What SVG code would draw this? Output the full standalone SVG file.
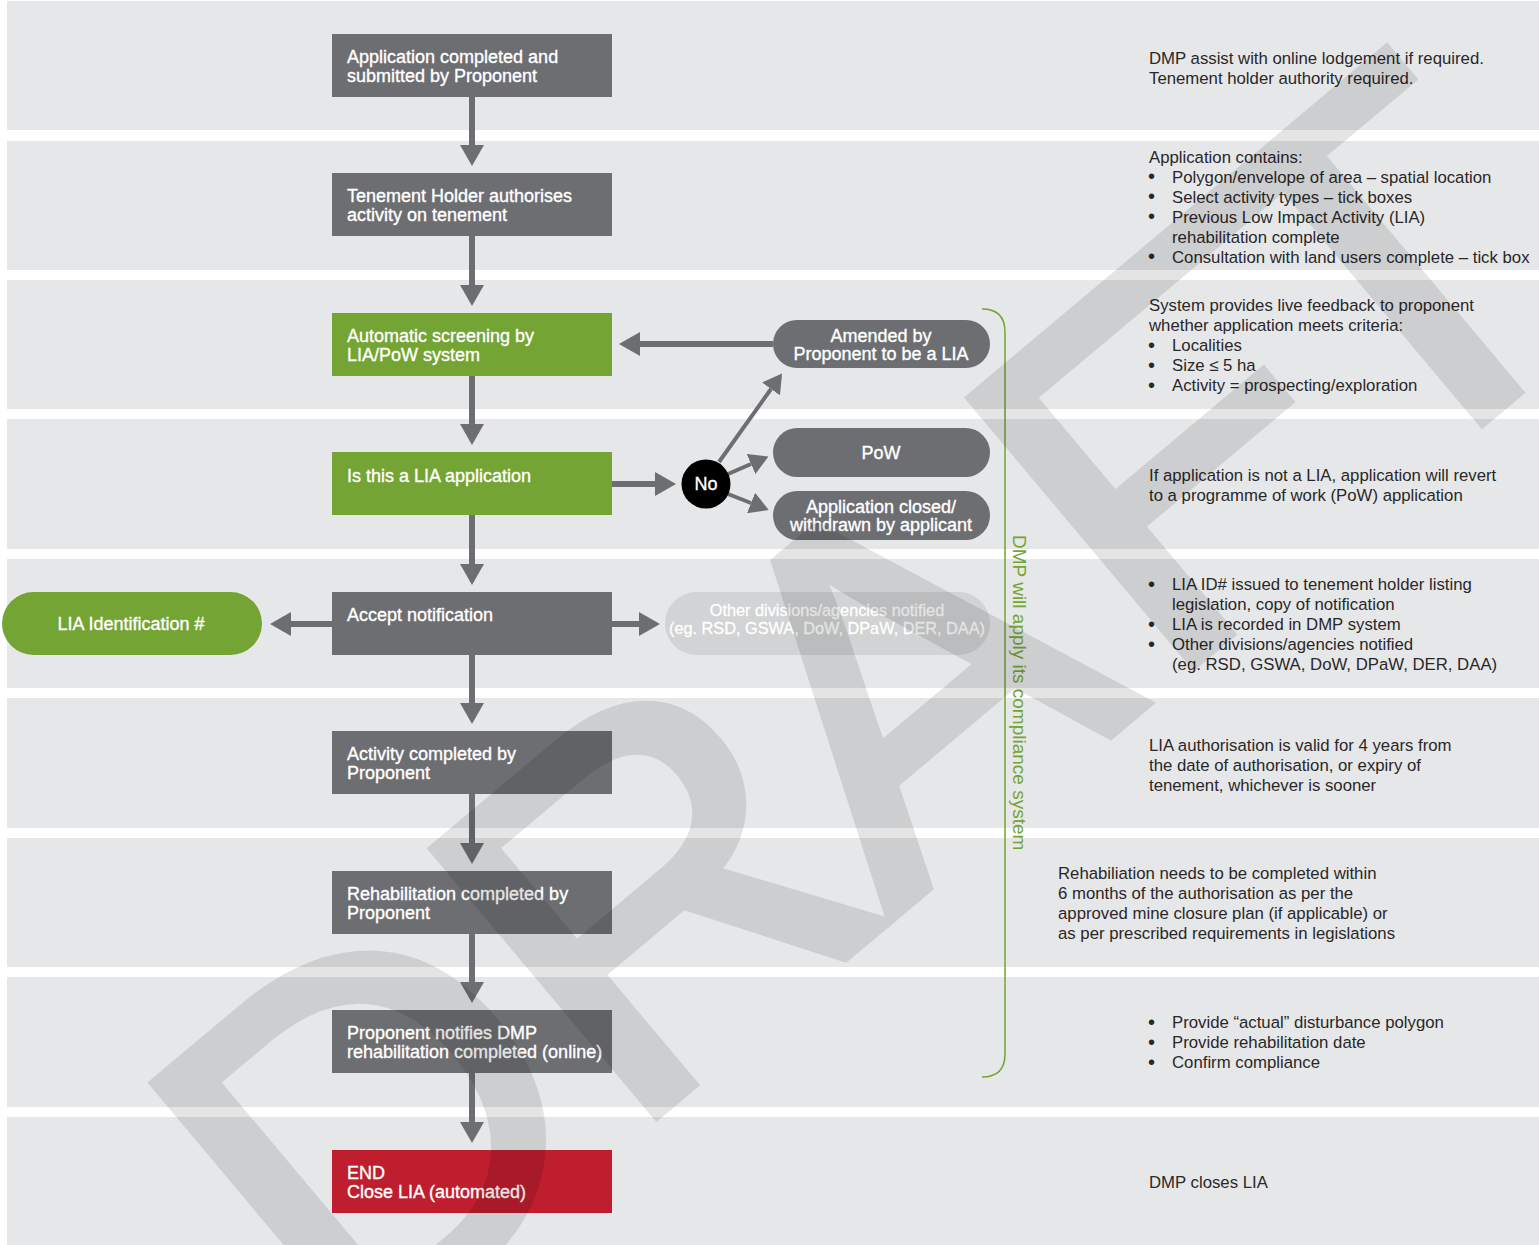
<svg xmlns="http://www.w3.org/2000/svg" width="1539" height="1245" viewBox="0 0 1539 1245">
  <style>
    .band{fill:#e6e7e8}
    .gray{fill:#6d6e71}
    .green{fill:#74a433}
    .red{fill:#be1e2d}
    .pale{fill:#d1d3d4}
    .nt{font-family:"Liberation Sans",Arial,sans-serif;font-size:18px;fill:#fff;stroke:#fff;stroke-width:0.35px}
    .pt{font-family:"Liberation Sans",Arial,sans-serif;font-size:16.3px;fill:#fff;stroke:#fff;stroke-width:0.3px;text-anchor:middle}
    .mid{text-anchor:middle}
    .note{font-family:"Liberation Sans",Arial,sans-serif;font-size:16.75px;fill:#2a2728}
    .bul{font-size:20px}
    .conn{stroke:#6d6e71;stroke-width:6;fill:none}
    .thin{stroke:#6d6e71;stroke-width:4;fill:none}
  </style>
  <defs>
    <marker id="ah" markerUnits="userSpaceOnUse" markerWidth="21" markerHeight="24" viewBox="0 0 21 24" refX="0" refY="12" orient="auto">
      <path d="M0,0 L21,12 L0,24 Z" fill="#6d6e71"/>
    </marker>
    <marker id="ahs" markerUnits="userSpaceOnUse" markerWidth="19" markerHeight="22" viewBox="0 0 19 22" refX="0" refY="11" orient="auto">
      <path d="M0,0 L19,11 L0,22 Z" fill="#6d6e71"/>
    </marker>
  </defs>

  <rect width="1539" height="1245" fill="#fff"/>

  <!-- background swim lanes -->
  <g id="lanes">
    <rect class="band" x="7" y="1" width="1532" height="129"/>
    <rect class="band" x="7" y="141" width="1532" height="129"/>
    <rect class="band" x="7" y="280" width="1532" height="129"/>
    <rect class="band" x="7" y="419" width="1532" height="130"/>
    <rect class="band" x="7" y="559" width="1532" height="129"/>
    <rect class="band" x="7" y="698" width="1532" height="130"/>
    <rect class="band" x="7" y="838" width="1532" height="129"/>
    <rect class="band" x="7" y="977" width="1532" height="130"/>
    <rect class="band" x="7" y="1117" width="1532" height="128"/>
  </g>

  <!-- compliance bracket -->
  <g id="compliance">
    <path d="M982,309 Q1005,309 1005,332 V1054 Q1005,1077 982,1077" fill="none" stroke="#74a433" stroke-width="1.5"/>
    <text transform="translate(1013,535) rotate(90)" font-family="Liberation Sans, Arial, sans-serif" font-size="19" fill="#74a433">DMP will apply its compliance system</text>
  </g>

  <!-- connectors -->
  <g id="connectors">
    <line class="conn" x1="472" y1="97" x2="472" y2="145" marker-end="url(#ah)"/>
    <line class="conn" x1="472" y1="236" x2="472" y2="285" marker-end="url(#ah)"/>
    <line class="conn" x1="472" y1="376" x2="472" y2="424" marker-end="url(#ah)"/>
    <line class="conn" x1="472" y1="515" x2="472" y2="564" marker-end="url(#ah)"/>
    <line class="conn" x1="472" y1="655" x2="472" y2="703" marker-end="url(#ah)"/>
    <line class="conn" x1="472" y1="794" x2="472" y2="843" marker-end="url(#ah)"/>
    <line class="conn" x1="472" y1="934" x2="472" y2="982" marker-end="url(#ah)"/>
    <line class="conn" x1="472" y1="1073" x2="472" y2="1122" marker-end="url(#ah)"/>
    <line class="conn" x1="773" y1="344" x2="640" y2="344" marker-end="url(#ah)"/>
    <line class="conn" x1="612" y1="484" x2="655" y2="484" marker-end="url(#ah)"/>
    <line class="conn" x1="332" y1="624" x2="291" y2="624" marker-end="url(#ah)"/>
    <line class="conn" x1="612" y1="624" x2="639" y2="624" marker-end="url(#ah)"/>
    <line class="thin" x1="719" y1="462" x2="771" y2="389" marker-end="url(#ahs)"/>
    <line class="thin" x1="728" y1="474" x2="751" y2="464" marker-end="url(#ahs)"/>
    <line class="thin" x1="728" y1="494" x2="751" y2="503" marker-end="url(#ahs)"/>
  </g>

  <!-- process steps -->
  <g id="n-submitted">
    <rect class="gray" x="332" y="34" width="280" height="63"/>
    <text class="nt" x="347" y="63">Application completed and</text>
    <text class="nt" x="347" y="82">submitted by Proponent</text>
  </g>
  <g id="n-authorises">
    <rect class="gray" x="332" y="173" width="280" height="63"/>
    <text class="nt" x="347" y="202">Tenement Holder authorises</text>
    <text class="nt" x="347" y="221">activity on tenement</text>
  </g>
  <g id="n-screening">
    <rect class="green" x="332" y="313" width="280" height="63"/>
    <text class="nt" x="347" y="342">Automatic screening by</text>
    <text class="nt" x="347" y="361">LIA/PoW system</text>
  </g>
  <g id="n-is-lia">
    <rect class="green" x="332" y="452" width="280" height="63"/>
    <text class="nt" x="347" y="482">Is this a LIA application</text>
  </g>
  <g id="n-accept">
    <rect class="gray" x="332" y="592" width="280" height="63"/>
    <text class="nt" x="347" y="621">Accept notification</text>
  </g>
  <g id="n-activity">
    <rect class="gray" x="332" y="731" width="280" height="63"/>
    <text class="nt" x="347" y="760">Activity completed by</text>
    <text class="nt" x="347" y="779">Proponent</text>
  </g>
  <g id="n-rehab">
    <rect class="gray" x="332" y="871" width="280" height="63"/>
    <text class="nt" x="347" y="900">Rehabilitation completed by</text>
    <text class="nt" x="347" y="919">Proponent</text>
  </g>
  <g id="n-notify">
    <rect class="gray" x="332" y="1010" width="280" height="63"/>
    <text class="nt" x="347" y="1039">Proponent notifies DMP</text>
    <text class="nt" x="347" y="1058">rehabilitation completed (online)</text>
  </g>
  <g id="n-end">
    <rect class="red" x="332" y="1150" width="280" height="63"/>
    <text class="nt" x="347" y="1179">END</text>
    <text class="nt" x="347" y="1198">Close LIA (automated)</text>
  </g>

  <!-- side outcomes -->
  <g id="n-no">
    <circle cx="706" cy="484" r="24.5" fill="#000"/>
    <text class="nt mid" x="706" y="490">No</text>
  </g>
  <g id="n-amended">
    <rect class="gray" x="773" y="320" width="217" height="48" rx="24"/>
    <text class="nt mid" x="881" y="342">Amended by</text>
    <text class="nt mid" x="881" y="360">Proponent to be a LIA</text>
  </g>
  <g id="n-pow">
    <rect class="gray" x="773" y="428" width="217" height="49" rx="24.5"/>
    <text class="nt mid" x="881" y="459">PoW</text>
  </g>
  <g id="n-closed">
    <rect class="gray" x="773" y="491" width="217" height="49" rx="24.5"/>
    <text class="nt mid" x="881" y="513">Application closed/</text>
    <text class="nt mid" x="881" y="531">withdrawn by applicant</text>
  </g>
  <g id="n-lia-id">
    <rect class="green" x="2" y="592" width="260" height="63" rx="31.5"/>
    <text class="nt mid" x="131" y="630">LIA Identification #</text>
  </g>
  <g id="n-others">
    <rect class="pale" x="665" y="592" width="325" height="63" rx="31.5"/>
    <text class="pt" x="827" y="616">Other divisions/agencies notified</text>
    <text class="pt" x="827" y="634">(eg. RSD, GSWA, DoW, DPaW, DER, DAA)</text>
  </g>

  <!-- explanatory notes -->
  <g id="notes" class="note">
    <text x="1149" y="63.5">DMP assist with online lodgement if required.</text>
    <text x="1149" y="83.5">Tenement holder authority required.</text>

    <text x="1149" y="162.5">Application contains:</text>
    <text class="bul" x="1148" y="183">•</text><text x="1172" y="182.5">Polygon/envelope of area – spatial location</text>
    <text class="bul" x="1148" y="203">•</text><text x="1172" y="202.5">Select activity types – tick boxes</text>
    <text class="bul" x="1148" y="223">•</text><text x="1172" y="222.5">Previous Low Impact Activity (LIA)</text>
    <text x="1172" y="242.5">rehabilitation complete</text>
    <text class="bul" x="1148" y="263">•</text><text x="1172" y="262.5">Consultation with land users complete – tick box</text>

    <text x="1149" y="311">System provides live feedback to proponent</text>
    <text x="1149" y="331">whether application meets criteria:</text>
    <text class="bul" x="1148" y="351.5">•</text><text x="1172" y="351">Localities</text>
    <text class="bul" x="1148" y="371.5">•</text><text x="1172" y="371">Size ≤ 5 ha</text>
    <text class="bul" x="1148" y="391.5">•</text><text x="1172" y="391">Activity = prospecting/exploration</text>

    <text x="1149" y="481">If application is not a LIA, application will revert</text>
    <text x="1149" y="501">to a programme of work (PoW) application</text>

    <text class="bul" x="1148" y="590.5">•</text><text x="1172" y="590">LIA ID# issued to tenement holder listing</text>
    <text x="1172" y="610">legislation, copy of notification</text>
    <text class="bul" x="1148" y="630.5">•</text><text x="1172" y="630">LIA is recorded in DMP system</text>
    <text class="bul" x="1148" y="650.5">•</text><text x="1172" y="650">Other divisions/agencies notified</text>
    <text x="1172" y="670">(eg. RSD, GSWA, DoW, DPaW, DER, DAA)</text>

    <text x="1149" y="750.5">LIA authorisation is valid for 4 years from</text>
    <text x="1149" y="770.5">the date of authorisation, or expiry of</text>
    <text x="1149" y="790.5">tenement, whichever is sooner</text>

    <text x="1058" y="879">Rehabiliation needs to be completed within</text>
    <text x="1058" y="899">6 months of the authorisation as per the</text>
    <text x="1058" y="919">approved mine closure plan (if applicable) or</text>
    <text x="1058" y="939">as per prescribed requirements in legislations</text>

    <text class="bul" x="1148" y="1028.5">•</text><text x="1172" y="1028">Provide “actual” disturbance polygon</text>
    <text class="bul" x="1148" y="1048.5">•</text><text x="1172" y="1048">Provide rehabilitation date</text>
    <text class="bul" x="1148" y="1068.5">•</text><text x="1172" y="1068">Confirm compliance</text>

    <text x="1149" y="1188">DMP closes LIA</text>
  </g>

  <!-- watermark, letters placed individually along the rotated baseline -->
  <g id="watermark" opacity="0.1">
    <text transform="translate(346,1376) rotate(-40)" x="0 364.6 710 1066 1353" y="0" font-family="Liberation Sans, Arial, sans-serif" font-size="505" fill="#000" stroke="#000" stroke-width="10" stroke-linejoin="miter">DRAFT</text>
  </g>
</svg>
